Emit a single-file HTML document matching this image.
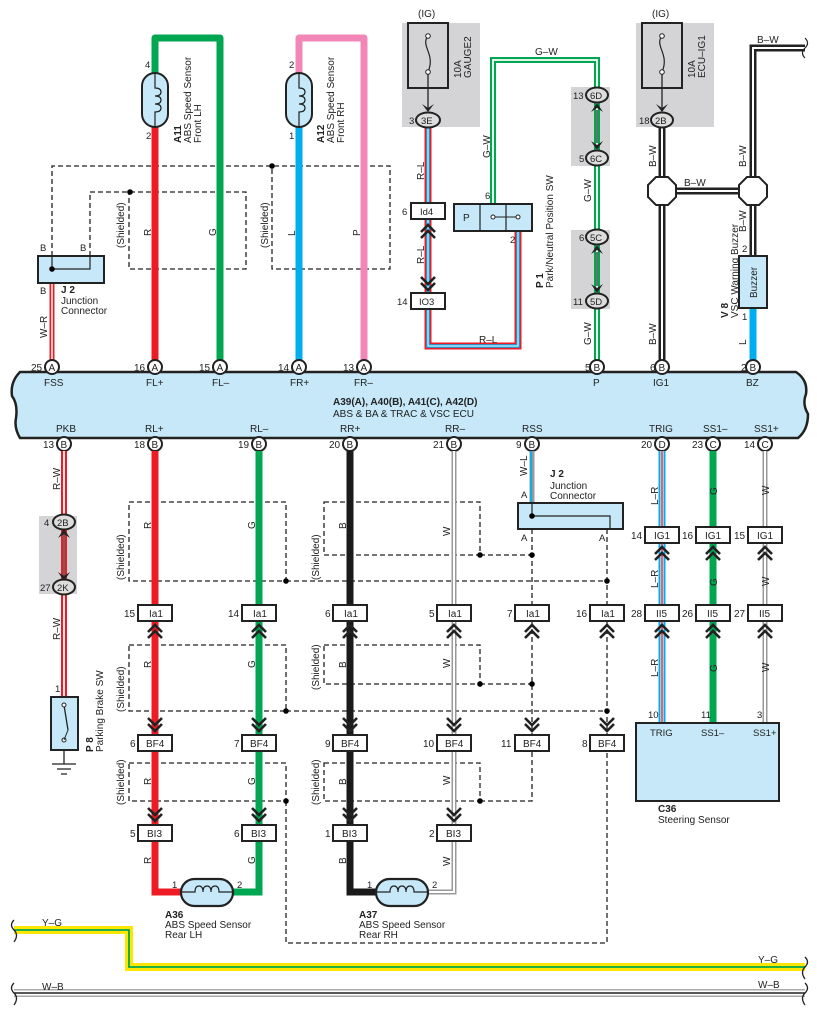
<!DOCTYPE html>
<html><head><meta charset="utf-8"><style>
html,body{margin:0;padding:0;background:#fff}
svg{display:block;font-family:"Liberation Sans",sans-serif}
text{font-size:10px;fill:#222}
.p{font-size:9.5px}
.b{font-weight:bold}
.d{fill:none;stroke:#222;stroke-width:1.3;stroke-dasharray:5,3}
.bx{fill:#fff;stroke:#222;stroke-width:2}
.ch{fill:none;stroke:#222;stroke-width:2.6}
.g{fill:#d4d4d6}
</style></head><body>
<svg width="817" height="1018" viewBox="0 0 817 1018" xmlns="http://www.w3.org/2000/svg">

<rect class="g" x="402" y="23" width="78" height="104"/>
<rect class="g" x="636" y="23" width="78" height="104"/>
<rect class="g" x="571" y="87" width="39" height="79"/>
<rect class="g" x="571" y="230" width="39" height="79"/>
<rect class="g" x="39" y="516" width="38" height="78"/>

<path class="d" d="M52 256 V166 H390 V269 H272 V166"/>
<path class="d" d="M90 256 V192 H246 V269 H129 V192"/>
<circle cx="272" cy="166" r="2.8"/><circle cx="130" cy="192" r="2.8"/>

<path d="M155 360 V127" stroke="#ed1c24" stroke-width="7" fill="none"/>
<path d="M155 73 V38 H220 V360" stroke="#00a650" stroke-width="7" fill="none" stroke-linejoin="round"/>
<path d="M299 360 V127" stroke="#00aeef" stroke-width="7" fill="none"/>
<path d="M299 73 V38 H364 V360" stroke="#f287b7" stroke-width="7" fill="none" stroke-linejoin="round"/>

<g fill="#c6e8f8" stroke="#222" stroke-width="2">
<rect x="142" y="73" width="26" height="54" rx="13"/>
<rect x="286" y="73" width="26" height="54" rx="13"/>
</g>
<g fill="none" stroke="#222" stroke-width="1.2">
<path d="M155 74 V88 q6 0 6 4 q0 4 -6 4 q6 0 6 4 q0 4 -6 4 q6 0 6 4 q0 4 -6 4 V126"/>
<path d="M299 74 V88 q6 0 6 4 q0 4 -6 4 q6 0 6 4 q0 4 -6 4 q6 0 6 4 q0 4 -6 4 V126"/>
</g>
<text class="p" x="145" y="68">4</text><text class="p" x="146" y="139">2</text>
<text class="p" x="289" y="68">2</text><text class="p" x="289" y="139">1</text>
<g transform="translate(181,143) rotate(-90)"><text x="0" y="0" class="b">A11</text><text x="0" y="10">ABS Speed Sensor</text><text x="0" y="20">Front LH</text></g>
<g transform="translate(324,143) rotate(-90)"><text x="0" y="0" class="b">A12</text><text x="0" y="10">ABS Speed Sensor</text><text x="0" y="20">Front RH</text></g>
<g transform="rotate(-90)">
<text x="-248" y="124">(Shielded)</text><text x="-236" y="151">R</text><text x="-236" y="216">G</text>
<text x="-248" y="268">(Shielded)</text><text x="-236" y="295">L</text><text x="-236" y="360">P</text>
<text x="-338" y="47">W–R</text>
</g>

<path d="M52 283 V360" stroke="#ed1c24" stroke-width="5" fill="none"/>
<path d="M52 283 V360" stroke="#fff" stroke-width="1.5" fill="none"/>
<rect x="38" y="256" width="66" height="27" fill="#c6e8f8" stroke="#222" stroke-width="2"/>
<path d="M52 256 V269 H90 V256" fill="none" stroke="#222" stroke-width="1.2"/>
<circle cx="52" cy="269" r="2.8"/>
<text class="p" x="40" y="251">B</text><text class="p" x="80" y="251">B</text><text class="p" x="40" y="294">B</text>
<text class="b" x="61" y="293">J 2</text><text x="61" y="304">Junction</text><text x="61" y="314">Connector</text>

<rect x="408" y="23" width="40" height="65" fill="none" stroke="#222" stroke-width="2"/>
<path d="M428 36 c-8 10 8 18 0 36" fill="none" stroke="#222" stroke-width="1.2"/>
<circle cx="428" cy="36" r="2.3" fill="#fff" stroke="#222"/><circle cx="428" cy="72" r="2.3" fill="#fff" stroke="#222"/>
<path d="M428 74 V108" stroke="#222" stroke-width="1.3"/>
<path d="M422 104 L428 112 L434 104 L428 108Z" fill="#222"/>
<text x="418" y="17">(IG)</text>
<g transform="translate(461,78) rotate(-90)"><text x="0" y="0">10A</text><text x="0" y="10">GAUGE2</text></g>

<path d="M428 127 V346 H518 V231" fill="none" stroke="#ed1c24" stroke-width="7"/>
<path d="M428 127 V346 H518 V231" fill="none" stroke="#00aeef" stroke-width="3.5"/>
<path d="M428 127 V346 H518 V231" fill="none" stroke="#fff" stroke-width="1"/>
<ellipse cx="428" cy="120" rx="12" ry="7.5" fill="#ddd" stroke="#222" stroke-width="2"/><text class="p" x="421" y="124">3E</text><text class="p" x="409" y="124">3</text>
<rect class="bx" x="411" y="203" width="34" height="16"/><text class="p" x="420" y="215">Id4</text><text class="p" x="402" y="215">6</text>
<polyline class="ch" points="421,232 428,225 435,232"/><polyline class="ch" points="421,238 428,231 435,238"/>
<polyline class="ch" points="421,277 428,284 435,277"/><polyline class="ch" points="421,283 428,290 435,283"/>
<rect class="bx" x="411" y="293" width="34" height="16"/><text class="p" x="419" y="305">IO3</text><text class="p" x="397" y="305">14</text>
<g transform="rotate(-90)"><text x="-180" y="424">R–L</text><text x="-264" y="424">R–L</text><text x="-158" y="490">G–W</text></g>
<text x="479" y="343">R–L</text>

<path d="M493 204 V60 H597 V360" fill="none" stroke="#00a650" stroke-width="6"/>
<path d="M493 204 V60 H597 V360" fill="none" stroke="#fff" stroke-width="1.8"/>
<text x="535" y="55">G–W</text>
<rect x="454" y="204" width="78" height="27" fill="#c6e8f8" stroke="#222" stroke-width="2"/>
<path d="M480 204 V231 M506 204 V231" stroke="#222" stroke-width="1.2"/>
<text x="463" y="221">P</text>
<path d="M493 217 H518" stroke="#222"/><circle cx="493" cy="217" r="2" fill="#fff" stroke="#222"/><circle cx="518" cy="217" r="2" fill="#fff" stroke="#222"/>
<text class="p" x="485" y="199">6</text><text class="p" x="510" y="243">2</text>
<g transform="translate(543,288) rotate(-90)"><text class="b" x="0" y="0">P 1</text><text x="0" y="10">Park/Neutral Position SW</text></g>
<g transform="rotate(-90)"><text x="-202" y="591">G–W</text><text x="-345" y="591">G–W</text></g>
<g fill="#ddd" stroke="#222" stroke-width="2">
<ellipse cx="597" cy="95" rx="11" ry="7.5"/><ellipse cx="597" cy="158" rx="11" ry="7.5"/>
<ellipse cx="597" cy="237" rx="11" ry="7.5"/><ellipse cx="597" cy="301" rx="11" ry="7.5"/>
</g>
<text class="p" x="590" y="99">6D</text><text class="p" x="590" y="162">6C</text><text class="p" x="590" y="241">5C</text><text class="p" x="590" y="305">5D</text>
<text class="p" x="573" y="99">13</text><text class="p" x="579" y="162">5</text><text class="p" x="579" y="241">6</text><text class="p" x="573" y="305">11</text>
<g stroke="#222" stroke-width="1.2"><path d="M597 110 V143 M597 252 V286"/></g>
<g fill="#222"><path d="M591 112 L597 103 L603 112 L597 108Z M591 141 L597 150 L603 141 L597 145Z M591 254 L597 245 L603 254 L597 250Z M591 284 L597 293 L603 284 L597 288Z"/></g>

<rect x="642" y="23" width="40" height="65" fill="none" stroke="#222" stroke-width="2"/>
<path d="M662 36 c-8 10 8 18 0 36" fill="none" stroke="#222" stroke-width="1.2"/>
<circle cx="662" cy="36" r="2.3" fill="#fff" stroke="#222"/><circle cx="662" cy="72" r="2.3" fill="#fff" stroke="#222"/>
<path d="M662 74 V108" stroke="#222" stroke-width="1.3"/>
<path d="M656 104 L662 112 L668 104 L662 108Z" fill="#222"/>
<text x="652" y="17">(IG)</text>
<g transform="translate(695,78) rotate(-90)"><text x="0" y="0">10A</text><text x="0" y="10">ECU–IG1</text></g>
<g fill="none" stroke="#222" stroke-width="7"><path d="M662 127 V360 M662 191 H753 M753 308 V48 H805"/></g>
<g fill="none" stroke="#fff" stroke-width="2"><path d="M662 127 V360 M662 191 H753 M753 256 V48 H805"/></g>
<path d="M805 38 q5 5 0 10 q-5 5 0 10" fill="none" stroke="#222" stroke-width="1.2"/>
<ellipse cx="662" cy="120" rx="11" ry="7.5" fill="#ddd" stroke="#222" stroke-width="2"/><text class="p" x="655" y="124">2B</text><text class="p" x="639" y="124">18</text>
<g fill="#fff" stroke="#222" stroke-width="2">
<polygon points="656,177 668,177 676,185 676,197 668,205 656,205 648,197 648,185"/>
<polygon points="747,177 759,177 767,185 767,197 759,205 747,205 739,197 739,185"/>
</g>
<text x="684" y="186">B–W</text><text x="757" y="43">B–W</text>
<g transform="rotate(-90)"><text x="-167" y="656">B–W</text><text x="-167" y="746">B–W</text><text x="-232" y="746">B–W</text><text x="-345" y="656">B–W</text><text x="-345" y="746">L</text></g>
<path d="M753 308 V360" stroke="#00aeef" stroke-width="7"/>
<rect x="739" y="256" width="28" height="52" fill="#c6e8f8" stroke="#222" stroke-width="2"/>
<g transform="translate(757,298) rotate(-90)"><text x="0" y="0">Buzzer</text></g>
<text class="p" x="742" y="252">2</text><text class="p" x="742" y="320">1</text>
<g transform="translate(728,318) rotate(-90)"><text class="b" x="0" y="0">V 8</text><text x="0" y="10">VSC Warning Buzzer</text></g>

<path d="M20 372 H796 Q808 380 806 394 Q802 404 808 414 Q808 430 798 438 H20 Q14 428 16 418 Q18 404 12 396 Q10 382 20 372Z" fill="#c6e8f8" stroke="#222" stroke-width="2.5"/>
<g class="p">
<text x="44" y="386">FSS</text><text x="146" y="386">FL+</text><text x="212" y="386">FL–</text><text x="290" y="386">FR+</text><text x="354" y="386">FR–</text>
<text x="593" y="386">P</text><text x="653" y="386">IG1</text><text x="746" y="386">BZ</text>
<text x="56" y="432">PKB</text><text x="145" y="432">RL+</text><text x="250" y="432">RL–</text><text x="340" y="432">RR+</text><text x="445" y="432">RR–</text><text x="522" y="432">RSS</text><text x="649" y="432">TRIG</text><text x="703" y="432">SS1–</text><text x="754" y="432">SS1+</text>
</g>
<text class="b" x="333" y="405">A39(A), A40(B), A41(C), A42(D)</text>
<text x="333" y="417">ABS &amp; BA &amp; TRAC &amp; VSC ECU</text>

<g fill="#fff" stroke="#222" stroke-width="2">
<circle cx="52" cy="367" r="7"/><circle cx="155" cy="367" r="7"/><circle cx="220" cy="367" r="7"/><circle cx="299" cy="367" r="7"/><circle cx="364" cy="367" r="7"/><circle cx="597" cy="367" r="7"/><circle cx="662" cy="367" r="7"/><circle cx="753" cy="367" r="7"/>
<circle cx="64" cy="444" r="7"/><circle cx="155" cy="444" r="7"/><circle cx="259" cy="444" r="7"/><circle cx="350" cy="444" r="7"/><circle cx="454" cy="444" r="7"/><circle cx="532" cy="444" r="7"/><circle cx="662" cy="444" r="7"/><circle cx="713" cy="444" r="7"/><circle cx="765" cy="444" r="7"/>
</g>
<g class="p">
<text x="48.5" y="371">A</text><text x="151.5" y="371">A</text><text x="216.5" y="371">A</text><text x="295.5" y="371">A</text><text x="360.5" y="371">A</text><text x="593.5" y="371">B</text><text x="658.5" y="371">B</text><text x="749.5" y="371">B</text>
<text x="31" y="371">25</text><text x="134" y="371">16</text><text x="199" y="371">15</text><text x="278" y="371">14</text><text x="343" y="371">13</text><text x="585" y="371">5</text><text x="650" y="371">6</text><text x="741" y="371">2</text>
<text x="60.5" y="448">B</text><text x="151.5" y="448">B</text><text x="255.5" y="448">B</text><text x="346.5" y="448">B</text><text x="450.5" y="448">B</text><text x="528.5" y="448">B</text><text x="658.5" y="448">D</text><text x="709.5" y="448">C</text><text x="761.5" y="448">C</text>
<text x="43" y="448">13</text><text x="134" y="448">18</text><text x="238" y="448">19</text><text x="329" y="448">20</text><text x="433" y="448">21</text><text x="516" y="448">9</text><text x="641" y="448">20</text><text x="692" y="448">23</text><text x="744" y="448">14</text>
</g>

<path class="d" d="M129 502 H286 V581 H129 Z M286 581 H607"/>
<path class="d" d="M324 502 H480 V555 H324 Z M480 555 H532"/>
<path class="d" d="M129 645 H286 V711 H129 Z M286 711 H607"/>
<path class="d" d="M324 645 H480 V684 H324 Z M480 684 H532"/>
<path class="d" d="M129 763 H286 V801 H129 Z M286 801 V943 H607 V751"/>
<path class="d" d="M324 763 H480 V801 H324 Z M480 801 H532 V751"/>
<path class="d" d="M532 529 V605 M532 621 V735 M607 529 V605 M607 621 V735"/>
<g><circle cx="286" cy="581" r="2.8"/><circle cx="607" cy="581" r="2.8"/><circle cx="480" cy="555" r="2.8"/><circle cx="532" cy="555" r="2.8"/><circle cx="286" cy="711" r="2.8"/><circle cx="607" cy="711" r="2.8"/><circle cx="480" cy="684" r="2.8"/><circle cx="532" cy="684" r="2.8"/><circle cx="286" cy="801" r="2.8"/><circle cx="480" cy="801" r="2.8"/></g>

<path d="M155 451 V892 H182" fill="none" stroke="#ed1c24" stroke-width="7"/>
<path d="M259 451 V892 H232" fill="none" stroke="#00a650" stroke-width="7"/>
<path d="M350 451 V892 H377" fill="none" stroke="#1a1a1a" stroke-width="7"/>
<path d="M454 451 V892 H428" fill="none" stroke="#999" stroke-width="5"/>
<path d="M454 451 V892 H428" fill="none" stroke="#fff" stroke-width="2"/>
<path d="M532 451 V503" stroke="#999" stroke-width="5"/><path d="M531 451 V503" stroke="#00aeef" stroke-width="1.8"/>
<path d="M662 451 V723" stroke="#00aeef" stroke-width="7"/><path d="M662 451 V723" stroke="#fff" stroke-width="3"/><path d="M662 451 V723" stroke="#ed1c24" stroke-width="1.4"/>
<path d="M713 451 V723" stroke="#00a650" stroke-width="7"/>
<path d="M765 451 V723" stroke="#999" stroke-width="5"/><path d="M765 451 V723" stroke="#fff" stroke-width="2"/>
<path d="M64 451 V697" stroke="#ed1c24" stroke-width="6"/><path d="M64 451 V697" stroke="#fff" stroke-width="1.8"/>

<ellipse cx="64" cy="522" rx="11" ry="7.5" fill="#ddd" stroke="#222" stroke-width="2"/><ellipse cx="64" cy="587" rx="11" ry="7.5" fill="#ddd" stroke="#222" stroke-width="2"/>
<path d="M64 531 V578" stroke="#222" stroke-width="1.3"/>
<path d="M58 538 L64 529 L70 538 L64 534Z M58 572 L64 581 L70 572 L64 576Z" fill="#222"/>
<text class="p" x="57" y="526">2B</text><text class="p" x="57" y="591">2K</text><text class="p" x="44" y="526">4</text><text class="p" x="40" y="591">27</text>
<rect x="51" y="697" width="27" height="53" fill="#c6e8f8" stroke="#222" stroke-width="2"/>
<path d="M64 705 L68 730 M64 750 V764 M52 764 H76 M57 769 H71 M61 774 H67" stroke="#222" stroke-width="1.3" fill="none"/>
<circle cx="64" cy="705" r="2" fill="#fff" stroke="#222"/><circle cx="64" cy="740" r="2" fill="#fff" stroke="#222"/>
<path d="M68 730 L64 740" stroke="#222"/>
<text class="p" x="55" y="692">1</text>
<g transform="translate(93,752) rotate(-90)"><text class="b" x="0" y="0">P 8</text><text x="0" y="10">Parking Brake SW</text></g>

<rect x="518" y="503" width="105" height="26" fill="#c6e8f8" stroke="#222" stroke-width="2"/>
<path d="M532 503 V516 H610 V529" fill="none" stroke="#222" stroke-width="1.2"/><circle cx="532" cy="516" r="2.8"/>
<text class="p" x="521" y="498">A</text><text class="p" x="521" y="541">A</text><text class="p" x="599" y="541">A</text>
<text class="b" x="550" y="477">J 2</text><text x="550" y="489">Junction</text><text x="550" y="499">Connector</text>

<g class="bx">
<rect x="138" y="605" width="34" height="16"/><rect x="242" y="605" width="34" height="16"/><rect x="333" y="605" width="34" height="16"/><rect x="437" y="605" width="34" height="16"/><rect x="515" y="605" width="34" height="16"/><rect x="590" y="605" width="34" height="16"/>
<rect x="138" y="735" width="34" height="16"/><rect x="242" y="735" width="34" height="16"/><rect x="333" y="735" width="34" height="16"/><rect x="437" y="735" width="34" height="16"/><rect x="515" y="735" width="34" height="16"/><rect x="590" y="735" width="34" height="16"/>
<rect x="138" y="825" width="34" height="16"/><rect x="242" y="825" width="34" height="16"/><rect x="333" y="825" width="34" height="16"/><rect x="437" y="825" width="34" height="16"/>
<rect x="645" y="527" width="34" height="16"/><rect x="696" y="527" width="34" height="16"/><rect x="748" y="527" width="34" height="16"/>
<rect x="645" y="605" width="34" height="16"/><rect x="696" y="605" width="34" height="16"/><rect x="748" y="605" width="34" height="16"/>
</g>
<g class="p">
<text x="149" y="617">Ia1</text><text x="253" y="617">Ia1</text><text x="344" y="617">Ia1</text><text x="448" y="617">Ia1</text><text x="526" y="617">Ia1</text><text x="601" y="617">Ia1</text>
<text x="146" y="747">BF4</text><text x="250" y="747">BF4</text><text x="341" y="747">BF4</text><text x="445" y="747">BF4</text><text x="523" y="747">BF4</text><text x="598" y="747">BF4</text>
<text x="147" y="837">BI3</text><text x="251" y="837">BI3</text><text x="342" y="837">BI3</text><text x="446" y="837">BI3</text>
<text x="654" y="539">IG1</text><text x="705" y="539">IG1</text><text x="757" y="539">IG1</text>
<text x="656" y="617">II5</text><text x="707" y="617">II5</text><text x="759" y="617">II5</text>
<text x="124" y="617">15</text><text x="228" y="617">14</text><text x="325" y="617">6</text><text x="429" y="617">5</text><text x="507" y="617">7</text><text x="576" y="617">16</text>
<text x="130" y="747">6</text><text x="234" y="747">7</text><text x="325" y="747">9</text><text x="423" y="747">10</text><text x="501" y="747">11</text><text x="582" y="747">8</text>
<text x="130" y="837">5</text><text x="234" y="837">6</text><text x="325" y="837">1</text><text x="429" y="837">2</text>
<text x="631" y="539">14</text><text x="682" y="539">16</text><text x="734" y="539">15</text>
<text x="631" y="617">28</text><text x="682" y="617">26</text><text x="734" y="617">27</text>
</g>
<g class="ch">
<path d="M148 632 l7 -7 l7 7 M148 638 l7 -7 l7 7 M252 632 l7 -7 l7 7 M252 638 l7 -7 l7 7 M343 632 l7 -7 l7 7 M343 638 l7 -7 l7 7 M447 632 l7 -7 l7 7 M447 638 l7 -7 l7 7 M525 632 l7 -7 l7 7 M525 638 l7 -7 l7 7 M600 632 l7 -7 l7 7 M600 638 l7 -7 l7 7"/>
<path d="M655 554 l7 -7 l7 7 M655 560 l7 -7 l7 7 M706 554 l7 -7 l7 7 M706 560 l7 -7 l7 7 M758 554 l7 -7 l7 7 M758 560 l7 -7 l7 7"/>
<path d="M655 632 l7 -7 l7 7 M655 638 l7 -7 l7 7 M706 632 l7 -7 l7 7 M706 638 l7 -7 l7 7 M758 632 l7 -7 l7 7 M758 638 l7 -7 l7 7"/>
<path d="M148 718 l7 7 l7 -7 M148 724 l7 7 l7 -7 M252 718 l7 7 l7 -7 M252 724 l7 7 l7 -7 M343 718 l7 7 l7 -7 M343 724 l7 7 l7 -7 M447 718 l7 7 l7 -7 M447 724 l7 7 l7 -7 M525 718 l7 7 l7 -7 M525 724 l7 7 l7 -7 M600 718 l7 7 l7 -7 M600 724 l7 7 l7 -7"/>
<path d="M148 808 l7 7 l7 -7 M148 814 l7 7 l7 -7 M252 808 l7 7 l7 -7 M252 814 l7 7 l7 -7 M343 808 l7 7 l7 -7 M343 814 l7 7 l7 -7 M447 808 l7 7 l7 -7 M447 814 l7 7 l7 -7"/>
</g>

<rect x="636" y="723" width="143" height="78" fill="#c6e8f8" stroke="#222" stroke-width="2"/>
<text class="p" x="650" y="736">TRIG</text><text class="p" x="701" y="736">SS1–</text><text class="p" x="753" y="736">SS1+</text>
<text class="p" x="648" y="718">10</text><text class="p" x="701" y="718">11</text><text class="p" x="757" y="718">3</text>
<text class="b" x="658" y="812">C36</text><text x="658" y="823">Steering Sensor</text>

<g transform="rotate(-90)">
<text x="-490" y="60">R–W</text><text x="-640" y="60">R–W</text>
<text x="-580" y="124">(Shielded)</text><text x="-529" y="151">R</text><text x="-529" y="255">G</text>
<text x="-580" y="319">(Shielded)</text><text x="-529" y="346">B</text><text x="-536" y="450">W</text>
<text x="-712" y="124">(Shielded)</text><text x="-668" y="151">R</text><text x="-668" y="255">G</text>
<text x="-690" y="319">(Shielded)</text><text x="-668" y="346">B</text><text x="-668" y="450">W</text>
<text x="-805" y="124">(Shielded)</text><text x="-785" y="151">R</text><text x="-785" y="255">G</text>
<text x="-805" y="319">(Shielded)</text><text x="-785" y="346">B</text><text x="-785" y="450">W</text>
<text x="-864" y="151">R</text><text x="-864" y="255">G</text><text x="-864" y="346">B</text><text x="-866" y="450">W</text>
<text x="-476" y="527">W–L</text>
<text x="-505" y="658">L–R</text><text x="-495" y="717">G</text><text x="-495" y="769">W</text>
<text x="-588" y="658">L–R</text><text x="-586" y="717">G</text><text x="-586" y="769">W</text>
<text x="-677" y="658">L–R</text><text x="-672" y="717">G</text><text x="-672" y="769">W</text>
</g>

<g fill="#c6e8f8" stroke="#222" stroke-width="2.2">
<rect x="181" y="879" width="52" height="27" rx="13.5"/>
<rect x="376" y="879" width="52" height="27" rx="13.5"/>
</g>
<g fill="none" stroke="#222" stroke-width="1.2">
<path d="M182 892 H195 q0 -6 4 -6 q4 0 4 6 q0 -6 4 -6 q4 0 4 6 q0 -6 4 -6 q4 0 4 6 H232"/>
<path d="M377 892 H390 q0 -6 4 -6 q4 0 4 6 q0 -6 4 -6 q4 0 4 6 q0 -6 4 -6 q4 0 4 6 H427"/>
</g>
<text class="p" x="172" y="888">1</text><text class="p" x="237" y="888">2</text>
<text class="p" x="367" y="888">1</text><text class="p" x="432" y="888">2</text>
<text class="b" x="165" y="918">A36</text><text x="165" y="928">ABS Speed Sensor</text><text x="165" y="938">Rear LH</text>
<text class="b" x="359" y="918">A37</text><text x="359" y="928">ABS Speed Sensor</text><text x="359" y="938">Rear RH</text>

<path d="M14 930 H129 V967 H805" fill="none" stroke="#ffe600" stroke-width="8"/>
<path d="M14 930 H129 V967 H805" fill="none" stroke="#00a650" stroke-width="1.8"/>
<path d="M14 993 H805" stroke="#aaa" stroke-width="8"/>
<path d="M14 993 H805" stroke="#fff" stroke-width="5"/>
<path d="M14 993 H805" stroke="#222" stroke-width="1.6"/>
<path d="M14 920 q-5 5 0 10 q5 5 0 12 M14 983 q-5 5 0 10 q5 5 0 12 M805 957 q5 5 0 10 q-5 5 0 12 M805 983 q5 5 0 10 q-5 5 0 12" fill="none" stroke="#222" stroke-width="1.3"/>
<text x="42" y="926">Y–G</text><text x="42" y="990">W–B</text>
<text x="758" y="963">Y–G</text><text x="758" y="988">W–B</text>
</svg>
</body></html>
